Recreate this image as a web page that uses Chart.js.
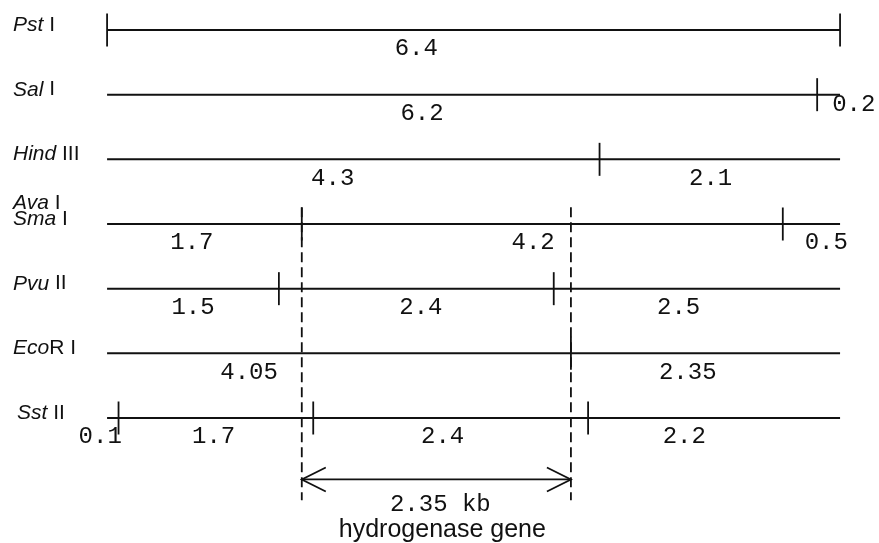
<!DOCTYPE html>
<html>
<head>
<meta charset="utf-8">
<title>Restriction map</title>
<script src="https://cdn.jsdelivr.net/npm/chart.js@4.4.1/dist/chart.umd.min.js"></script>
<style>
  html, body { margin: 0; padding: 0; background: #fff; }
</style>
</head>
<body>
<canvas id="mapChart" width="879" height="543"></canvas>
<script>
// Enzyme names per row: [italic part, roman part]
const enzymes = [
  [["Pst", " I"]],
  [["Sal", " I"]],
  [["Hind", " III"]],
  [["Ava", " I"], ["Sma", " I"]],
  [["Pvu", " II"]],
  [["Eco", "R I"]],
  [["Sst", " II"]]
];

// Fragment sizes in kb, left to right
const fragments = [
  [6.4],
  [6.2, 0.2],
  [4.3, 2.1],
  [1.7, 4.2, 0.5],
  [1.5, 2.4, 2.5],
  [4.05, 2.35],
  [0.1, 1.7, 2.4, 2.2]
];

// Rows whose map ends are cut sites too
const endCuts = [true, false, false, false, false, false, false];

// Where each fragment label sits along the map (kb)
const labelAt = [
  [2.70],
  [2.75, 6.52],
  [1.97, 5.27],
  [0.74, 3.72, 6.28],
  [0.75, 2.74, 4.99],
  [1.24, 5.07],
  [-0.06, 0.93, 2.93, 5.04]
];

// Hydrogenase gene span (kb)
const geneStart = 1.7;
const geneEnd = 4.05;
const geneSize = "2.35 kb";
const geneName = "hydrogenase gene";

// layout in row units
const arrowRow = 6.95;
const dashTop = 2.74;
const dashBottom = 7.27;

const black = "#111";
const datasets = [];

fragments.forEach((frags, r) => {
  const total = frags.reduce((a, b) => a + b, 0);
  datasets.push({
    data: [{ x: 0, y: r }, { x: total, y: r }],
    showLine: true,
    borderColor: black,
    borderWidth: 2,
    pointRadius: 0
  });
  const cuts = [];
  let pos = 0;
  frags.slice(0, -1).forEach(f => { pos += f; cuts.push({ x: pos, y: r }); });
  if (endCuts[r]) { cuts.unshift({ x: 0, y: r }); cuts.push({ x: total, y: r }); }
  datasets.push({
    data: cuts,
    showLine: false,
    pointStyle: "line",
    rotation: 90,
    pointRadius: 16.5,
    pointBorderColor: black,
    pointBorderWidth: 1.8
  });
});

// dashed gene boundaries
[geneStart, geneEnd].forEach(x => {
  datasets.push({
    data: [{ x: x, y: dashTop }, { x: x, y: dashBottom }],
    showLine: true,
    borderColor: black,
    borderWidth: 1.8,
    borderDash: [10, 5],
    pointRadius: 0
  });
});

// gene arrow shaft
const arrowIndex = datasets.length;
datasets.push({
  data: [{ x: geneStart, y: arrowRow }, { x: geneEnd, y: arrowRow }],
  showLine: true,
  borderColor: black,
  borderWidth: 1.8,
  pointRadius: 0
});

const mapText = {
  id: "mapText",
  afterDatasetsDraw(chart) {
    const ctx = chart.ctx;
    const xs = chart.scales.x, ys = chart.scales.y;
    ctx.save();
    ctx.fillStyle = black;

    // enzyme names on the left
    ctx.textBaseline = "middle";
    ctx.textAlign = "left";
    enzymes.forEach((lines, r) => {
      const yRow = ys.getPixelForValue(r);
      lines.forEach((parts, i) => {
        const y = yRow - 5 - (lines.length - 1 - i) * 16;
        let x = r === 6 ? 17 : 13;
        ctx.font = "italic 21px 'Liberation Sans', Arial, sans-serif";
        ctx.fillText(parts[0], x, y);
        x += ctx.measureText(parts[0]).width;
        ctx.font = "21px 'Liberation Sans', Arial, sans-serif";
        ctx.fillText(parts[1], x, y);
      });
    });

    // fragment sizes under each map
    ctx.font = "24px 'Liberation Mono', 'Courier New', monospace";
    ctx.textAlign = "center";
    fragments.forEach((frags, r) => {
      const yRow = ys.getPixelForValue(r);
      frags.forEach((f, i) => {
        const dy = (r === 1 && i === 1) ? 10 : 19;
        ctx.fillText(String(f), xs.getPixelForValue(labelAt[r][i]), yRow + dy);
      });
    });

    // arrow heads
    const meta = chart.getDatasetMeta(arrowIndex);
    const p0 = meta.data[0], p1 = meta.data[1];
    ctx.strokeStyle = black;
    ctx.lineWidth = 1.8;
    ctx.beginPath();
    ctx.moveTo(p0.x + 24, p0.y - 12); ctx.lineTo(p0.x, p0.y); ctx.lineTo(p0.x + 24, p0.y + 12);
    ctx.moveTo(p1.x - 24, p1.y - 12); ctx.lineTo(p1.x, p1.y); ctx.lineTo(p1.x - 24, p1.y + 12);
    ctx.stroke();

    const mid = (p0.x + p1.x) / 2;
    ctx.font = "24px 'Liberation Mono', 'Courier New', monospace";
    ctx.textBaseline = "middle";
    ctx.fillText(geneSize, mid + 4, p0.y + 25);
    ctx.font = "25px 'Liberation Sans', Arial, sans-serif";
    ctx.textBaseline = "alphabetic";
    ctx.fillText(geneName, mid + 6, p0.y + 58);
    ctx.restore();
  }
};

new Chart(document.getElementById("mapChart"), {
  type: "scatter",
  data: { datasets: datasets },
  options: {
    responsive: false,
    animation: false,
    devicePixelRatio: 1,
    layout: { padding: 0, autoPadding: false },
    plugins: { legend: { display: false }, tooltip: { enabled: false } },
    scales: {
      x: { type: "linear", min: -0.935, max: 6.74, display: false },
      y: { type: "linear", min: -0.464, max: 7.933, reverse: true, display: false }
    }
  },
  plugins: [mapText]
});
</script>
</body>
</html>
